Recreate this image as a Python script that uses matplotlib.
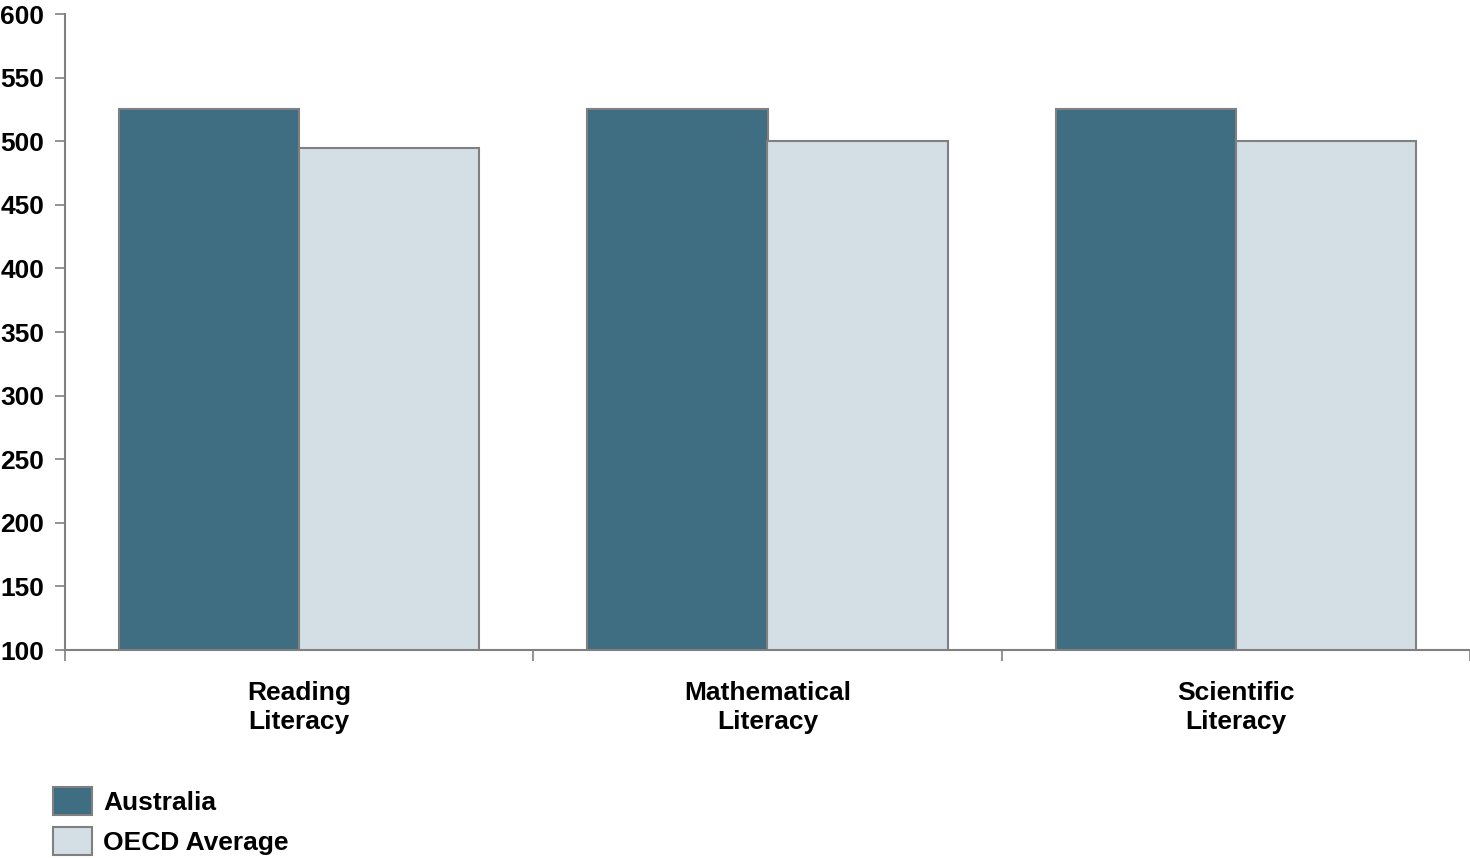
import matplotlib
matplotlib.use("Agg")
import matplotlib.pyplot as plt
import matplotlib.patches as mpatches
import numpy as np

plt.rcParams["font.family"] = ["Liberation Sans", "DejaVu Sans"]
plt.rcParams["font.weight"] = "bold"

categories = ["Reading\nLiteracy", "Mathematical\nLiteracy", "Scientific\nLiteracy"]
australia = [525, 525, 525]
oecd_avg = [495, 500, 500]
series_names = ["Australia", "OECD Average"]
yticks = [100, 150, 200, 250, 300, 350, 400, 450, 500, 550, 600]

AUS_COLOR = "#3F6D81"
OECD_COLOR = "#D3DFE5"
EDGE = "#808080"
FS = 19

fig = plt.figure(figsize=(14.7, 8.58), dpi=100)
ax = fig.add_axes([65 / 1470, 1 - 650 / 858, 1405 / 1470, 636 / 858])

x = np.arange(len(categories))
w = 0.385
ax.bar(x - w / 2, australia, w, bottom=0, color=AUS_COLOR, edgecolor=EDGE, linewidth=1.5)
ax.bar(x + w / 2, oecd_avg, w, bottom=0, color=OECD_COLOR, edgecolor=EDGE, linewidth=1.5)

ax.set_ylim(100, 600)
ax.set_xlim(-0.5, len(categories) - 0.5)
ax.set_yticks(yticks)
ax.set_yticklabels([str(v) for v in yticks], fontsize=FS, fontweight="bold")

# category boundaries carry the ticks, labels sit at the centres
ax.set_xticks(np.arange(len(categories) + 1) - 0.5)
ax.set_xticklabels([])
ax.set_xticks(x, minor=True)
ax.set_xticklabels(categories, minor=True, fontsize=FS, fontweight="bold", linespacing=1.3)
ax.tick_params(axis="x", which="minor", length=0, pad=22)
ax.tick_params(axis="x", which="major", length=8, width=1.2, color=EDGE)
ax.tick_params(axis="y", length=7, width=1.2, color=EDGE, pad=8)

for side in ["top", "right"]:
    ax.spines[side].set_visible(False)
for side in ["left", "bottom"]:
    ax.spines[side].set_color(EDGE)
    ax.spines[side].set_linewidth(1.5)

handles = [mpatches.Patch(facecolor=AUS_COLOR, edgecolor=EDGE, linewidth=1.5, label=series_names[0]),
           mpatches.Patch(facecolor=OECD_COLOR, edgecolor=EDGE, linewidth=1.5, label=series_names[1])]
fig.legend(handles=handles, loc="lower left", bbox_to_anchor=(53 / 1470, 3 / 858),
           frameon=False, prop={"size": FS, "weight": "bold"}, borderpad=0, borderaxespad=0,
           handlelength=1.48, handleheight=1.25, handletextpad=0.42, labelspacing=0.45)

fig.savefig("out.png", dpi=100, facecolor="white")
